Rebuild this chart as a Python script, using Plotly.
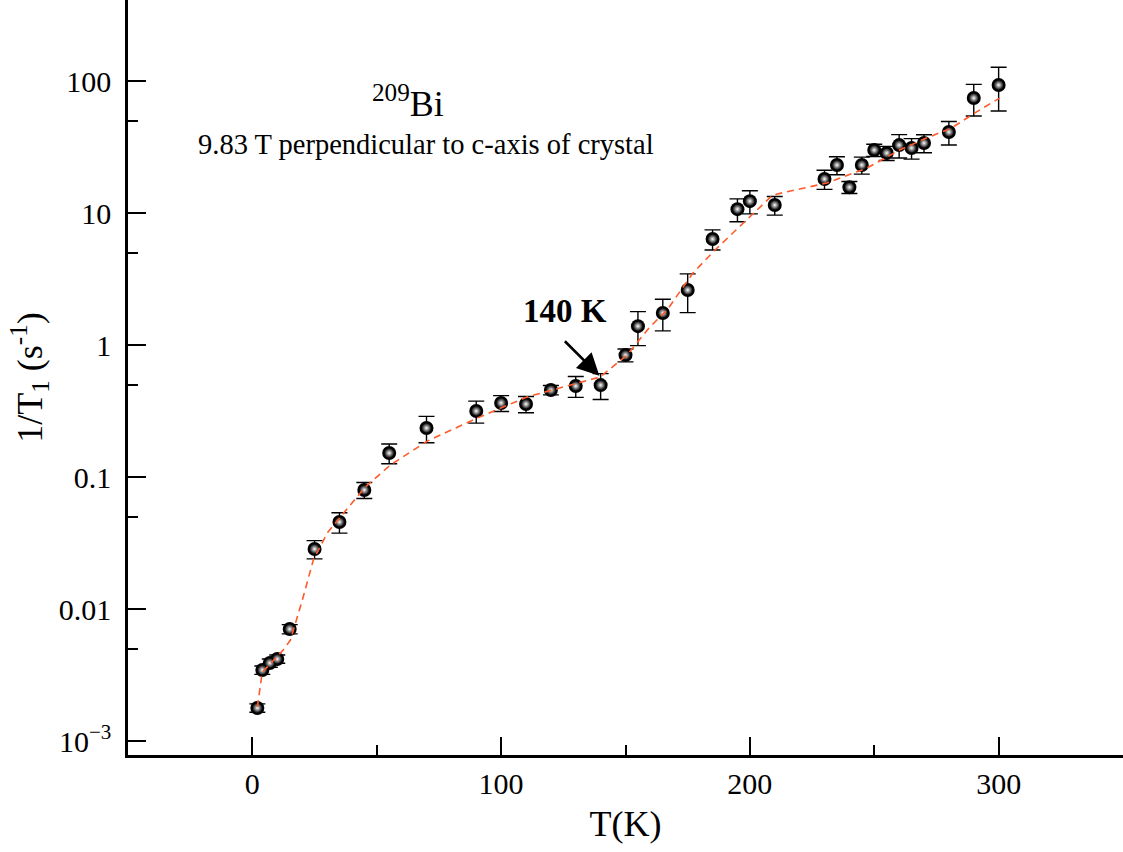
import numpy as np
import plotly.graph_objects as go

# ---- data ----
T = [2, 4, 7, 10, 15, 25, 35, 45, 55, 70, 90, 100, 110, 120, 130, 140, 150, 155,
     165, 175, 185, 195, 200, 210, 230, 235, 240, 245, 250, 255, 260, 265, 270,
     280, 290, 300]
rate = [0.00178, 0.00345, 0.0039, 0.00418, 0.00705, 0.0285, 0.0456, 0.0798, 0.152,
        0.235, 0.316, 0.364, 0.357, 0.456, 0.489, 0.497, 0.839, 1.39, 1.75, 2.61,
        6.35, 10.7, 12.3, 11.5, 18.1, 23.1, 15.7, 23.1, 30.0, 28.5, 32.7, 31.1,
        33.9, 41.1, 74.3, 93.3]
rate_err = [0.00013, 0.00025, 0.00028, 0.0003, 0.00057, 0.0045, 0.008, 0.011, 0.026,
            0.053, 0.060, 0.05, 0.05, 0.037, 0.088, 0.11, 0.094, 0.4, 0.47, 0.85,
            1.1, 2.1, 2.45, 1.85, 3.0, 3.6, 1.65, 3.4, 3.2, 3.5, 6.6, 5.5, 5.3,
            8.3, 20, 34]

fit_T = [2, 4, 6.4, 12.4, 15.3, 20.1, 24.5, 30.1, 35.3, 45.4, 55.4, 70.3, 90.4,
         110.4, 120.5, 130.5, 139.8, 150.6, 159.8, 166.7, 177.1, 186, 200, 209.2,
         220, 231, 247, 260.2, 271, 281, 291, 300.4]
fit_rate = [0.00181, 0.00333, 0.0037, 0.00489, 0.00582, 0.0117, 0.0235, 0.0377,
            0.0497, 0.0839, 0.123, 0.187, 0.28, 0.404, 0.456, 0.515, 0.573, 0.839,
            1.37, 1.84, 3.51, 5.25, 9.33, 13.7, 15.2, 16.9, 21.9, 30, 37, 44, 58.2,
            74.3]

y_tickvals = [100, 10, 1, 0.1, 0.01, 0.001]
y_ticktext = ["100", "10", "1", "0.1", "0.01", "10<sup>\u22123</sup>"]
y_minor = [50, 5, 0.5, 0.05, 0.005]
x_tickvals = [0, 100, 200, 300]
x_minor = [50, 150, 250]

FONT = "Liberation Serif, Times New Roman, serif"

fig = go.Figure()
# sphere body with error bars
fig.add_trace(go.Scatter(
    x=T, y=rate, mode="markers",
    marker=dict(size=14, color="black", line=dict(width=0)),
    error_y=dict(type="data", array=rate_err, visible=True,
                 color="black", thickness=1.4, width=8),
    showlegend=False, hoverinfo="skip",
))
# sphere highlight (radial gradient: gradient.color is the centre colour)
fig.add_trace(go.Scatter(
    x=T, y=rate, mode="markers",
    marker=dict(size=10, color="black",
                gradient=dict(type="radial", color="white"),
                line=dict(width=0)),
    showlegend=False,
))
fig.add_trace(go.Scatter(
    x=fit_T, y=fit_rate, mode="lines",
    line=dict(color="#ff5a2a", width=1.6, dash="7px,5px"),
    showlegend=False,
))

fig.update_layout(
    width=1123, height=852,
    margin=dict(l=128, r=0, t=0, b=97),
    paper_bgcolor="white", plot_bgcolor="white",
    font=dict(family=FONT, color="black"),
    xaxis=dict(
        range=[-50, 350], showgrid=False, zeroline=False,
        showline=True, linecolor="black", linewidth=2.5,
        ticks="inside", ticklen=18, tickwidth=2, tickcolor="black",
        tickmode="array", tickvals=x_tickvals,
        tickfont=dict(size=30, family=FONT),
        minor=dict(tickmode="array", tickvals=x_minor, ticks="inside",
                   ticklen=10, tickwidth=2, tickcolor="black"),
        title=dict(text="T(K)", font=dict(size=36, family=FONT), standoff=13),
    ),
    yaxis=dict(
        type="log", range=[-3.106, 2.614], showgrid=False, zeroline=False,
        showline=True, linecolor="black", linewidth=2.5,
        ticks="inside", ticklen=18, tickwidth=2, tickcolor="black",
        tickmode="array", tickvals=y_tickvals, ticktext=y_ticktext,
        tickfont=dict(size=30, family=FONT), ticklabelstandoff=8,
        minor=dict(tickmode="array", tickvals=y_minor, ticks="inside",
                   ticklen=10, tickwidth=2, tickcolor="black"),
        title=dict(text="1/T<sub>1</sub> (s<sup>-1</sup>)",
                   font=dict(size=36, family=FONT), standoff=6),
    ),
)

fig.add_annotation(xref="paper", yref="paper", x=0.281, y=0.866,
                   xanchor="center", yanchor="middle",
                   text="<sup>209</sup>Bi", showarrow=False,
                   font=dict(size=36, family=FONT))
fig.add_annotation(xref="paper", yref="paper", x=0.2995, y=0.808,
                   xanchor="center", yanchor="middle",
                   text="9.83 T perpendicular to c-axis of crystal",
                   showarrow=False, font=dict(size=28.5, family=FONT))
fig.add_annotation(xref="paper", yref="paper", x=0.439, y=0.588,
                   xanchor="center", yanchor="middle",
                   text="<b>140 K</b>", showarrow=False,
                   font=dict(size=33, family=FONT))
fig.add_annotation(xref="x", yref="y", x=139.5, y=np.log10(0.585),
                   axref="pixel", ayref="pixel", ax=-36, ay=-36,
                   text="", showarrow=True, arrowhead=2, arrowsize=1.7,
                   arrowwidth=2.6, arrowcolor="black")

fig.write_html("out.html")
